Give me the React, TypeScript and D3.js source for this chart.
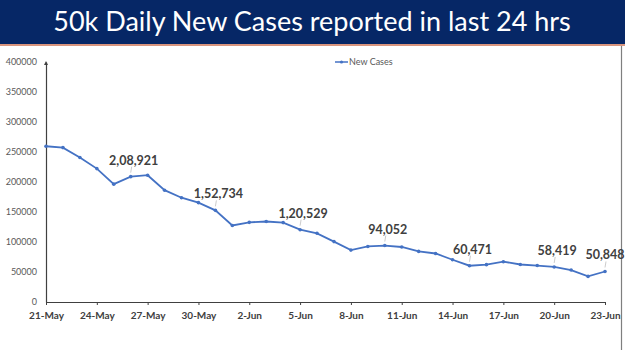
import React, { useEffect, useRef } from 'react';
import * as d3 from 'd3';

// daily new cases, 21-May to 23-Jun
const days = [
	'21-May', '22-May', '23-May', '24-May', '25-May', '26-May', '27-May', '28-May',
	'29-May', '30-May', '31-May', '1-Jun', '2-Jun', '3-Jun', '4-Jun', '5-Jun',
	'6-Jun', '7-Jun', '8-Jun', '9-Jun', '10-Jun', '11-Jun', '12-Jun', '13-Jun',
	'14-Jun', '15-Jun', '16-Jun', '17-Jun', '18-Jun', '19-Jun', '20-Jun', '21-Jun',
	'22-Jun', '23-Jun',
];
const newCases = [
	259551, 257299, 240842, 222315, 196427, 208921, 211298, 186364,
	173790, 165553, 152734, 127510, 132788, 134154, 132364, 120529,
	114460, 100636, 86498, 92596, 94052, 91702, 84332, 80834,
	70421, 60471, 62224, 67208, 62480, 60753, 58419, 53256,
	42640, 50848,
];
const tickDays = ['21-May', '24-May', '27-May', '30-May', '2-Jun', '5-Jun', '8-Jun', '11-Jun', '14-Jun', '17-Jun', '20-Jun', '23-Jun'];
const yTicks = [0, 50000, 100000, 150000, 200000, 250000, 300000, 350000, 400000];
const labelled = ['26-May', '31-May', '5-Jun', '10-Jun', '15-Jun', '20-Jun', '23-Jun'];
const labelText = ['2,08,921', '1,52,734', '1,20,529', '94,052', '60,471', '58,419', '50,848'];

const W = 625;
const H = 350;
const BLUE = '#4472c4';

const App: React.FC = () => {
	const ref = useRef<SVGSVGElement>(null);

	useEffect(() => {
		if (!ref.current) return;
		const svg = d3.select(ref.current);
		svg.selectAll('*').remove();

		// title bar
		svg.append('rect').attr('x', 0).attr('y', 0).attr('width', W).attr('height', 44).attr('fill', '#062766');
		svg.append('rect').attr('x', 0).attr('y', 44).attr('width', W).attr('height', 2).attr('fill', '#d9957e');
		svg
			.append('text')
			.attr('x', 312)
			.attr('y', 31)
			.attr('text-anchor', 'middle')
			.attr('fill', '#ffffff')
			.style('font-family', 'Lato, sans-serif')
			.style('font-size', '27px')
			.text('50k Daily New Cases reported in last 24 hrs');

		// right border
		svg.append('line').attr('x1', 621.5).attr('x2', 621.5).attr('y1', 46).attr('y2', H).attr('stroke', '#7f7f7f').attr('stroke-width', 1.2);

		const x = d3.scalePoint<string>().domain(days).range([46, 605]);
		const y = d3.scaleLinear().domain([0, 400000]).range([302, 62]);

		// y axis
		const gy = svg.append('g').attr('transform', 'translate(46,0)');
		gy.call(d3.axisLeft(y).tickValues(yTicks).tickSize(0).tickPadding(9).tickFormat(d3.format('d')) as any);
		gy.select('.domain').attr('stroke', '#404040').attr('stroke-width', 1.2);
		gy.selectAll('text')
			.attr('fill', '#595959')
			.style('font-family', 'Lato, sans-serif')
			.style('font-size', '9px');
		gy.append('path').attr('d', 'M-2,65 L0,61 L2,65 Z').attr('fill', '#404040');

		// x axis
		const gx = svg.append('g').attr('transform', 'translate(0,302)');
		gx.call(d3.axisBottom(x).tickValues(tickDays).tickSize(3).tickPadding(7).tickSizeOuter(0) as any);
		gx.select('.domain').attr('stroke', '#404040').attr('stroke-width', 1.2);
		gx.selectAll('line').attr('stroke', '#404040');
		gx.selectAll('text')
			.attr('fill', '#404040')
			.style('font-family', 'Lato, sans-serif')
			.style('font-size', '10px')
			.style('font-weight', 'bold');

		// line
		const pts = days.map((d, i) => ({ d, v: newCases[i] }));
		const line = d3
			.line<{ d: string; v: number }>()
			.x((p) => x(p.d) as number)
			.y((p) => y(p.v));
		svg.append('path').datum(pts).attr('d', line).attr('fill', 'none').attr('stroke', BLUE).attr('stroke-width', 1.8);
		svg
			.append('g')
			.selectAll('circle')
			.data(pts)
			.enter()
			.append('circle')
			.attr('cx', (p) => x(p.d) as number)
			.attr('cy', (p) => y(p.v))
			.attr('r', 1.8)
			.attr('fill', BLUE);

		// data labels with leader lines
		const lg = svg.append('g');
		labelled.forEach((d, i) => {
			const v = newCases[days.indexOf(d)];
			const px = x(d) as number;
			const py = y(v);
			lg.append('line')
				.attr('x1', px)
				.attr('x2', px + 1)
				.attr('y1', py - 4)
				.attr('y2', py - 10)
				.attr('stroke', '#bfbfbf')
				.attr('stroke-width', 0.8);
			lg.append('text')
				.attr('x', i === 6 ? px : px + 3)
				.attr('y', py - 12)
				.attr('text-anchor', 'middle')
				.attr('fill', '#404040')
				.style('font-family', 'Lato, sans-serif')
				.style('font-size', '12.5px')
				.style('font-weight', 'bold')
				.text(labelText[i]);
		});

		// legend
		const leg = svg.append('g').attr('transform', 'translate(335,62)');
		leg.append('line').attr('x1', 0).attr('x2', 13).attr('y1', 0).attr('y2', 0).attr('stroke', BLUE).attr('stroke-width', 1.5);
		leg.append('circle').attr('cx', 6.5).attr('cy', 0).attr('r', 1.6).attr('fill', BLUE);
		leg.append('text')
			.attr('x', 14)
			.attr('y', 3)
			.attr('fill', '#595959')
			.style('font-family', 'Lato, sans-serif')
			.style('font-size', '9px')
			.text('New Cases');
	}, []);

	return (
		<svg
			ref={ref}
			width={W}
			height={H}
			style={{ position: 'absolute', left: 0, top: 0, background: '#ffffff' }}
		/>
	);
};

export default App;
